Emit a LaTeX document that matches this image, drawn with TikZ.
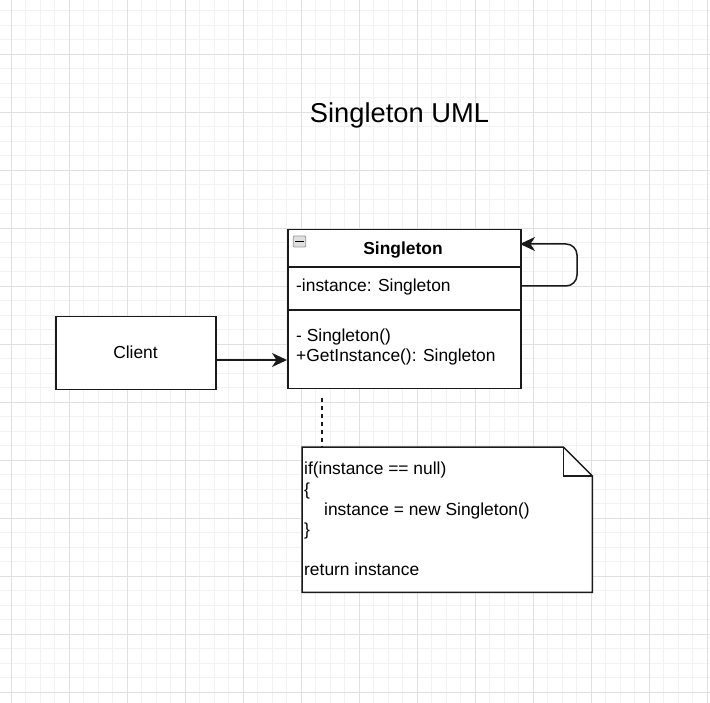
\documentclass[tikz,border=0pt]{standalone}
\usepackage{fontspec}
\setmainfont{Liberation Sans}
\usetikzlibrary{arrows.meta}
\definecolor{gmin}{HTML}{F2F2F2}
\definecolor{gmaj}{HTML}{E0E0E0}
\definecolor{ink}{HTML}{1A1A1A}
\tikzset{
  box/.style={draw=ink, line width=1.5pt, fill=white, inner sep=0pt},
  txt/.style={inner sep=0pt, font=\fontsize{17.4}{20}\selectfont, text=black},
  conn/.style={draw=ink, line width=1.5pt, -{Stealth[length=15pt,width=14pt,inset=4.5pt]}},
  dashconn/.style={draw=ink, line width=1.5pt, dash pattern=on 4pt off 4pt},
  sep/.style={draw=ink, line width=1.5pt}
}
\begin{document}
\begin{tikzpicture}[x=1pt,y=-1pt]
\useasboundingbox (0,0) rectangle (710,703);
\fill[white] (0,0) rectangle (710,703);
% grid
\foreach \k in {0,...,48}{\draw[gmin, line width=0.9pt] ({11.3+14.5*\k},0) -- ({11.3+14.5*\k},703);}
\foreach \k in {-3,...,44}{\draw[gmin, line width=0.9pt] (0,{54.3+14.5*\k}) -- (710,{54.3+14.5*\k});}
\foreach \k in {0,4,...,48}{\draw[gmaj, line width=1pt] ({11.3+14.5*\k},0) -- ({11.3+14.5*\k},703);}
\foreach \k in {0,4,...,44}{\draw[gmaj, line width=1pt] (0,{54.3+14.5*\k}) -- (710,{54.3+14.5*\k});}

% title
\node[inner sep=0pt, font=\fontsize{27.3}{31}\selectfont, anchor=base] (title) at (399.5,123) {Singleton UML};

% client
\node[box, minimum width=160pt, minimum height=73pt, anchor=north west] (client) at (55,316) {};
\node[txt, anchor=base] (clientlbl) at (135.5,359) {Client};

% class
\node[box, minimum width=233pt, minimum height=159pt, anchor=north west] (cls) at (287,229) {};
\coordinate (sepA) at (287,267);
\coordinate (sepB) at (287,310);
\draw[sep] (sepA) -- (sepA -| cls.east);
\draw[sep] (sepB) -- (sepB -| cls.east);
\node[draw=gray!80, fill=gray!25, rounded corners=1pt, line width=0.8pt, minimum width=12.5pt, minimum height=11pt, inner sep=0pt] (icon) at (299.5,241.5) {};
\draw[line width=1.6pt, black] ([xshift=2.5pt]icon.west) -- ([xshift=-2.5pt]icon.east);
\node[txt, font=\fontsize{17.4}{20}\selectfont\bfseries, anchor=base] (clsname) at (403,255) {Singleton};
\node[txt, anchor=base west] (attr) at (296,292) {-instance: Singleton};
\node[txt, anchor=base west] (m1) at (296,342) {- Singleton()};
\node[txt, anchor=base west] (m2) at (296,362) {+GetInstance(): Singleton};

% client -> class
\coordinate (a1) at (215,360);
\draw[conn] (a1) -- (a1 -| cls.west);

% self loop
\coordinate (s1) at (520,286);
\coordinate (s2) at (520,244);
\draw[conn, rounded corners=11pt] (s1) -- (577,286) -- (577,244) -- (s2);

% note
\node[inner sep=0pt, minimum width=290pt, minimum height=145pt, anchor=north west] (note) at (302,447) {};
\draw[draw=ink, line width=1.5pt, fill=white, line join=miter]
  (note.north west) -- ([xshift=-29pt]note.north east) -- ([yshift=-29pt]note.north east)
  -- (note.south east) -- (note.south west) -- cycle;
\draw[draw=ink, line width=1.5pt]
  ([xshift=-29pt]note.north east) -- ([xshift=-29pt,yshift=-29pt]note.north east) -- ([yshift=-29pt]note.north east);
\node[txt, anchor=base west] (n1) at (304,475) {if(instance == null)};
\node[txt, anchor=base west] (n2) at (304,495) {\{};
\node[txt, anchor=base west] (n3) at (324,515) {instance = new Singleton()};
\node[txt, anchor=base west] (n4) at (304,535) {\}};
\node[txt, anchor=base west] (n5) at (304,575) {return instance};

% dashed link
\coordinate (d1) at (322,398);
\draw[dashconn] (d1) -- (d1 |- note.north);
\end{tikzpicture}
\end{document}
